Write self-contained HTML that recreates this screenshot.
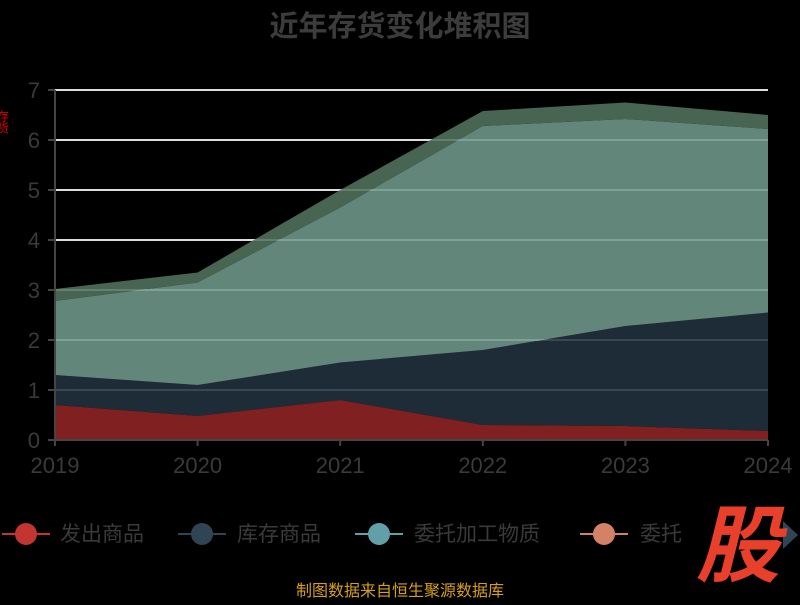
<!DOCTYPE html>
<html><head><meta charset="utf-8"><style>
body{margin:0;background:#000;width:800px;height:600px;overflow:hidden;font-family:"Liberation Sans","Noto Sans CJK SC",sans-serif}
</style></head><body>
<svg width="800" height="600" id="c">
<text x="400" y="36" text-anchor="middle" font-size="29" font-weight="bold" fill="#3c3c3c" font-family="Liberation Sans,Noto Sans CJK SC,sans-serif">近年存货变化堆积图</text>
<text x="3" y="110" fill="#d00" font-size="12" writing-mode="tb" font-family="Noto Sans CJK SC,sans-serif">存货</text>
<g id="grid"></g><g id="areas"></g><g id="axes"></g>
<g font-size="21" fill="#3a3a3a" font-family="Liberation Sans,Noto Sans CJK SC,sans-serif">
<g><line x1="2" y1="534" x2="50" y2="534" stroke="#c23531" stroke-width="2"/><circle cx="26" cy="534" r="11" fill="#c23531"/><text x="60" y="541">发出商品</text></g>
<g><line x1="178" y1="534" x2="226" y2="534" stroke="#2f4554" stroke-width="2"/><circle cx="202" cy="534" r="11" fill="#2f4554"/><text x="237" y="541">库存商品</text></g>
<g><line x1="355" y1="534" x2="403" y2="534" stroke="#61a0a8" stroke-width="2"/><circle cx="379" cy="534" r="11" fill="#61a0a8"/><text x="414" y="541">委托加工物质</text></g>
<g><line x1="580" y1="534" x2="628" y2="534" stroke="#d48265" stroke-width="2"/><circle cx="604" cy="534" r="11" fill="#d48265"/><text x="640" y="541">委托</text></g>
<polygon points="783,521 783,549 798,535" fill="#2f4554"/>
</g>
<text x="738" y="575" text-anchor="middle" font-size="84" font-weight="bold" font-style="italic" fill="#e8402a" font-family="Noto Sans CJK SC,sans-serif">股</text>
<text x="400" y="596" text-anchor="middle" font-size="16" fill="#d4a017" font-family="Liberation Sans,Noto Sans CJK SC,sans-serif">制图数据来自恒生聚源数据库</text>
</svg>
<script>
const years=["2019","2020","2021","2022","2023","2024"];
const fachu=[0.7,0.48,0.8,0.3,0.28,0.18];
const kucun=[0.6,0.62,0.75,1.5,2.0,2.37];
const weituo=[1.48,2.05,3.1,4.48,4.14,3.67];
const other=[0.24,0.2,0.35,0.3,0.33,0.28];
const yTicks=[0,1,2,3,4,5,6,7];
const NS="http://www.w3.org/2000/svg";
const x=i=>55+i*(768-55)/5, y=v=>440-v*50;
function mk(t,a,p){const e=document.createElementNS(NS,t);for(const k in a)e.setAttribute(k,a[k]);document.getElementById(p).appendChild(e);return e;}
yTicks.forEach(v=>{if(v>0){const l=mk('line',{x1:55,x2:768,y1:y(v),y2:y(v),stroke:'#ddd','stroke-width':2},'grid');

}
const t=mk('text',{x:40,y:y(v)+8,'text-anchor':'end','font-size':22,fill:'#3a3a3a'},'axes');t.textContent=v;


mk('line',{x1:48,x2:55,y1:y(v),y2:y(v),stroke:'#444','stroke-width':2},'axes');});
years.forEach((yr,i)=>{const t=mk('text',{x:x(i),y:473,'text-anchor':'middle','font-size':22,fill:'#3a3a3a'},'axes');t.textContent=yr;


mk('line',{x1:x(i),x2:x(i),y1:440,y2:446,stroke:'#444','stroke-width':2},'axes');});
mk('line',{x1:55,x2:55,y1:90,y2:440,stroke:'#444','stroke-width':2},'axes');
mk('line',{x1:55,x2:768,y1:440,y2:440,stroke:'#444','stroke-width':2},'axes');
const series=[[fachu,'#922424','area-fachu'],[kucun,'#223240','area-kucun'],[weituo,'#70998a','area-weituo'],[other,'#52725e','area-other']];
let base=years.map(()=>0);
series.forEach(([d,c,n])=>{const top=base.map((b,i)=>b+d[i]);
let pts=top.map((v,i)=>x(i)+','+y(v));
for(let i=years.length-1;i>=0;i--)pts.push(x(i)+','+y(base[i]));
const p=mk('polygon',{points:pts.join(' '),fill:c,opacity:0.88},'areas');


base=top;});
</script>
</body></html>
